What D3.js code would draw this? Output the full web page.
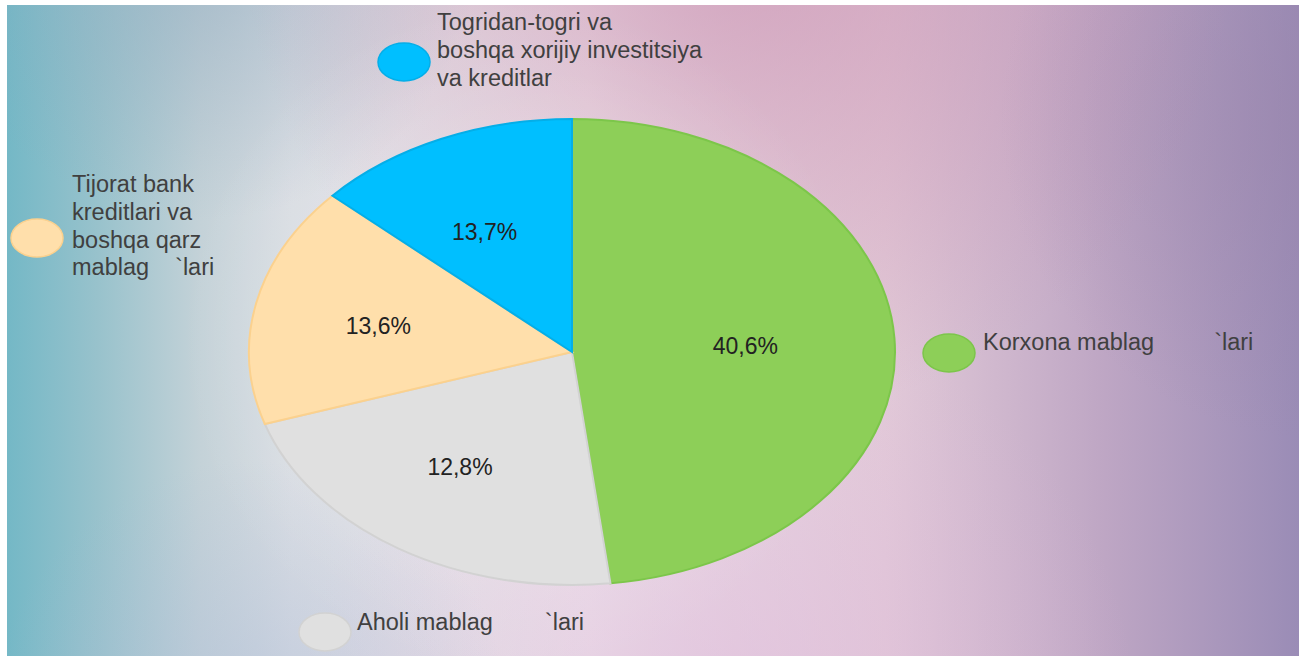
<!DOCTYPE html>
<html>
<head>
<meta charset="utf-8">
<script src="https://cdn.jsdelivr.net/npm/d3@7"></script>
<style>
  html, body { margin: 0; padding: 0; background: #fff; }
  svg { display: block; font-family: "Liberation Sans", Arial, sans-serif; }
</style>
</head>
<body>
<svg id="chart" width="1304" height="660"></svg>
<script>
// ======== Data ========
var categories = ['Korxona mablag`lari', 'Aholi mablag`lari',
    'Tijorat bank kreditlari va boshqa qarz mablag`lari',
    'Togridan-togri va boshqa xorijiy investitsiya va kreditlar'];
// slice shares as drawn in the picture (angle of each slice)
var shares = [48.1, 21.9, 16.7, 13.3];
// percent labels printed on the slices
var labels = ['40,6%', '12,8%', '13,6%', '13,7%'];
var colors = ['#8dcf58', '#e0e0e0', '#ffdfab', '#00bfff'];
var strokes = ['#7cc64a', '#d2d2d2', '#fbd18e', '#04aee8'];

// legend text lines (tspan groups) per category
var legendLines = [
    [['Korxona mablag', '`lari']],
    [['Aholi mablag', '`lari']],
    [['Tijorat bank'], ['kreditlari va'], ['boshqa qarz'], ['mablag', '`lari']],
    [['Togridan-togri va'], ['boshqa xorijiy investitsiya'], ['va kreditlar']]
];

// ======== Layout ========
var W = 1304, H = 660;
var cx = 572, cy = 352, rx = 323, ry = 233;
var legendPos = [
    {mx: 949, my: 353, tx: 983, ty: 350, gap: 60},
    {mx: 325, my: 632, tx: 357, ty: 630, gap: 52},
    {mx: 37, my: 238, tx: 72, ty: 192, gap: 26},
    {mx: 404, my: 62, tx: 437, ty: 30, gap: 0}
];

var svg = d3.select('#chart');
var defs = svg.append('defs');

// ======== Background ========
var base = defs.append('linearGradient').attr('id', 'bgBase')
    .attr('x1', 0).attr('y1', 0).attr('x2', 1).attr('y2', 0);
[[0, '#74b8c6'], [0.07, '#98c2cc'], [0.15, '#c4d2d8'], [0.22, '#d8dce2'],
 [0.45, '#ece2e8'], [0.68, '#e2cad8'], [0.85, '#bea6c4'], [1, '#9a8cb6']].forEach(function (s) {
    base.append('stop').attr('offset', s[0]).attr('stop-color', s[1]);
});

function radial(id, fx, fy, r, color, op) {
    var g = defs.append('radialGradient').attr('id', id)
        .attr('gradientUnits', 'userSpaceOnUse')
        .attr('cx', fx).attr('cy', fy).attr('r', r);
    g.append('stop').attr('offset', 0).attr('stop-color', color).attr('stop-opacity', op);
    g.append('stop').attr('offset', 1).attr('stop-color', color).attr('stop-opacity', 0);
}
radial('bgTop', 740, -80, 500, '#c88cae', 0.7);
radial('bgTopL', 200, -60, 280, '#8aa6bc', 0.55);
radial('bgWhite', 520, 340, 340, '#ffffff', 0.35);
radial('bgBottom', 720, 720, 420, '#deb6dc', 0.55);
radial('bgBottomL', 250, 720, 260, '#a8b8d8', 0.45);
radial('bgRight', 1320, 120, 320, '#9a84aa', 0.5);

var bg = svg.append('g');
['bgBase', 'bgTopL', 'bgTop', 'bgWhite', 'bgBottom', 'bgBottomL', 'bgRight'].forEach(function (id) {
    bg.append('rect')
        .attr('x', 7).attr('y', 5)
        .attr('width', W - 12).attr('height', H - 9)
        .attr('fill', 'url(#' + id + ')');
});

// ======== Pie ========
var pie = d3.pie().sort(null).value(function (d) { return d; });
var arcs = pie(shares);

var arc = d3.arc().innerRadius(0).outerRadius(ry);

var pieG = svg.append('g')
    .attr('transform', 'translate(' + cx + ',' + cy + ') scale(' + (rx / ry) + ',1)');

pieG.selectAll('path')
    .data(arcs)
    .enter()
    .append('path')
    .attr('d', arc)
    .attr('fill', function (d, i) { return colors[i]; })
    .attr('stroke', function (d, i) { return strokes[i]; })
    .attr('stroke-width', 2)
    .attr('vector-effect', 'non-scaling-stroke');

// Percent labels
var labelFrac = 0.575;
svg.append('g').selectAll('text')
    .data(arcs)
    .enter()
    .append('text')
    .attr('x', function (d) {
        var a = (d.startAngle + d.endAngle) / 2;
        return cx + Math.sin(a) * rx * labelFrac - 12;
    })
    .attr('y', function (d) {
        var a = (d.startAngle + d.endAngle) / 2;
        return cy - Math.cos(a) * ry * labelFrac + 10;
    })
    .attr('text-anchor', 'middle')
    .attr('font-size', 23)
    .attr('fill', '#222')
    .text(function (d, i) { return labels[i]; });

// ======== Legend ========
var legend = svg.append('g');
categories.forEach(function (c, i) {
    var p = legendPos[i];
    legend.append('ellipse')
        .attr('cx', p.mx).attr('cy', p.my)
        .attr('rx', 26).attr('ry', 19)
        .attr('fill', colors[i])
        .attr('stroke', strokes[i])
        .attr('stroke-width', 1.5);

    var t = legend.append('text')
        .attr('font-size', 23.5)
        .attr('fill', '#404040');
    legendLines[i].forEach(function (line, j) {
        line.forEach(function (part, k) {
            var ts = t.append('tspan').text(part);
            if (k === 0) {
                ts.attr('x', p.tx).attr('y', p.ty + j * 27.8);
            } else {
                ts.attr('dx', p.gap);
            }
        });
    });
});
</script>
</body>
</html>
